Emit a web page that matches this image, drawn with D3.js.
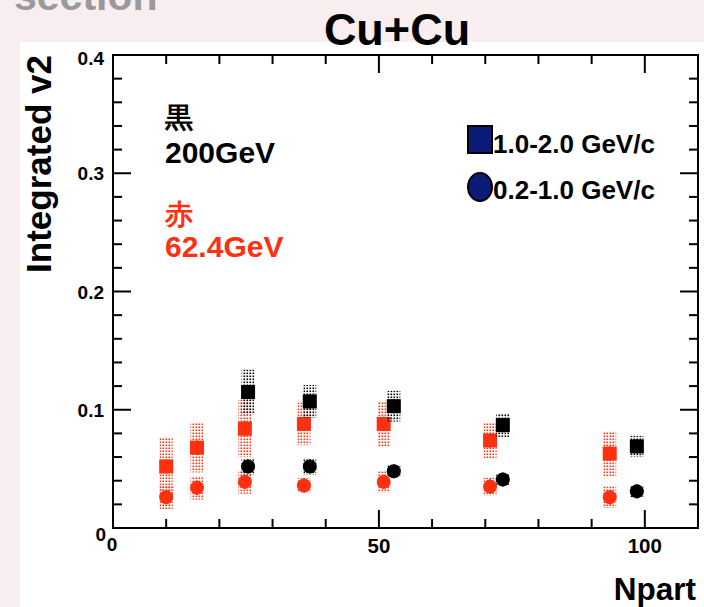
<!DOCTYPE html>
<html>
<head>
<meta charset="utf-8">
<script src="https://cdn.jsdelivr.net/npm/d3@7"></script>
<style>
  html, body { margin: 0; padding: 0; background: #f8eef0; }
  svg { display: block; }
  text { font-family: "Liberation Sans", Arial, sans-serif; font-weight: bold; }
</style>
</head>
<body>
<svg id="chart" width="704" height="607"></svg>
<script>
// Cu+Cu integrated v2 vs Npart
const npart62 = [10, 15.8, 24.8, 35.9, 50.9, 70.9, 93.4];
const v2High62 = [0.052, 0.068, 0.084, 0.088, 0.088, 0.074, 0.063];
const sysHigh62 = [0.025, 0.021, 0.024, 0.018, 0.019, 0.015, 0.019];
const v2Low62 = [0.026, 0.034, 0.039, 0.036, 0.039, 0.035, 0.026];
const sysLow62 = [0.0105, 0.010, 0.010, 0.006, 0.009, 0.0075, 0.009];

const npart200 = [25.4, 37.0, 52.8, 73.3, 98.5];
const v2High200 = [0.115, 0.107, 0.103, 0.087, 0.069];
const sysHigh200 = [0.019, 0.014, 0.013, 0.010, 0.009];
const v2Low200 = [0.052, 0.052, 0.048, 0.041, 0.031];
const sysLow200 = [0.007, 0.007, 0.005, 0.005, 0.005];

const statErr = 0.006;

const xTicksMajor = [0, 50, 100];
const yTicksMajor = [0, 0.1, 0.2, 0.3, 0.4];
const yTickLabels = ["0", "0.1", "0.2", "0.3", "0.4"];
const legendLabels = ["1.0-2.0 GeV/c", "0.2-1.0 GeV/c"];

const RED = "#ff3010";
const BLACK = "#000";

const svg = d3.select("#chart");

// page backdrop
svg.append("rect").attr("x", 20).attr("y", 42).attr("width", 684).attr("height", 565).attr("fill", "#fff");
svg.append("text").attr("x", 14).attr("y", 10).attr("font-size", 41).attr("fill", "#9a9a9a").text("section");

const x = d3.scaleLinear().domain([0, 110]).range([113, 698]);
const y = d3.scaleLinear().domain([0, 0.4]).range([528, 55]);

// dotted fill patterns for systematic bands
const defs = svg.append("defs");
[["dotRed", RED], ["dotBlack", BLACK]].forEach(([id, c]) => {
  const p = defs.append("pattern").attr("id", id).attr("patternUnits", "userSpaceOnUse")
    .attr("width", 3).attr("height", 3);
  p.append("rect").attr("x", 0.5).attr("y", 0.5).attr("width", 1.6).attr("height", 1.6).attr("fill", c);
});

// title
svg.append("text").attr("x", 397).attr("y", 45).attr("text-anchor", "middle")
  .attr("font-size", 45).text("Cu+Cu");

// frame
const [x0, x1] = x.range();
const [yb, yt] = y.range();
svg.append("rect").attr("x", x0).attr("y", yt).attr("width", x1 - x0).attr("height", yb - yt)
  .attr("fill", "none").attr("stroke", "#000").attr("stroke-width", 2);

// ticks on all four sides
const ticks = svg.append("g").attr("stroke", "#000").attr("stroke-width", 2);
d3.range(0, 0.4001, 0.02).forEach(v => {
  const major = Math.abs(v * 10 - Math.round(v * 10)) < 1e-6;
  const len = major ? 18 : 9;
  ticks.append("line").attr("x1", x0).attr("x2", x0 + len).attr("y1", y(v)).attr("y2", y(v));
  ticks.append("line").attr("x1", x1).attr("x2", x1 - len).attr("y1", y(v)).attr("y2", y(v));
});
d3.range(0, 110.01, 10).forEach(v => {
  const major = v % 50 === 0;
  const len = major ? 18 : 9;
  ticks.append("line").attr("x1", x(v)).attr("x2", x(v)).attr("y1", yb).attr("y2", yb - len);
  ticks.append("line").attr("x1", x(v)).attr("x2", x(v)).attr("y1", yt).attr("y2", yt + len);
});

// tick labels
yTicksMajor.forEach((v, i) => {
  const base = v === 0 ? 541 : (v === 0.4 ? y(v) + 10 : y(v) + 7);
  svg.append("text").attr("x", v === 0 ? 106 : 104).attr("y", base).attr("text-anchor", "end")
    .attr("font-size", 19).text(yTickLabels[i]);
});
xTicksMajor.forEach(v => {
  svg.append("text").attr("x", x(v) - (v === 0 ? 1 : 0)).attr("y", v === 0 ? 551 : 553)
    .attr("text-anchor", "middle").attr("font-size", v === 0 ? 19 : 20.5).text(String(v));
});

// axis titles
svg.append("text").attr("transform", "translate(51,164) rotate(-90)").attr("text-anchor", "middle")
  .attr("font-size", 35).text("Integrated v2");
svg.append("text").attr("x", 696).attr("y", 600).attr("text-anchor", "end")
  .attr("font-size", 31.5).text("Npart");

// annotations
const cjk = '"Noto Sans CJK JP", sans-serif';
svg.append("text").attr("x", 165).attr("y", 127).attr("font-size", 28).attr("font-family", cjk).text("黒");
svg.append("text").attr("x", 165).attr("y", 163).attr("font-size", 30).text("200GeV");
svg.append("text").attr("x", 165).attr("y", 224).attr("font-size", 28).attr("font-family", cjk).attr("fill", RED).text("赤");
svg.append("text").attr("x", 165).attr("y", 257).attr("font-size", 30).attr("fill", RED).text("62.4GeV");

// legend
const NAVY = "#0c1a78";
svg.append("rect").attr("x", 468).attr("y", 126).attr("width", 24).attr("height", 27)
  .attr("fill", NAVY).attr("stroke", "#000").attr("stroke-width", 2);
svg.append("ellipse").attr("cx", 480).attr("cy", 187).attr("rx", 12).attr("ry", 14)
  .attr("fill", NAVY).attr("stroke", "#000").attr("stroke-width", 2);
svg.append("text").attr("x", 493).attr("y", 153).attr("font-size", 26).text(legendLabels[0]);
svg.append("text").attr("x", 493).attr("y", 199).attr("font-size", 26).text(legendLabels[1]);

// data series
const series = [
  { xs: npart62, ys: v2Low62, sys: sysLow62, color: RED, pat: "dotRed", shape: "circle" },
  { xs: npart62, ys: v2High62, sys: sysHigh62, color: RED, pat: "dotRed", shape: "square" },
  { xs: npart200, ys: v2Low200, sys: sysLow200, color: BLACK, pat: "dotBlack", shape: "circle" },
  { xs: npart200, ys: v2High200, sys: sysHigh200, color: BLACK, pat: "dotBlack", shape: "square" }
];

const bandW = 13, mk = 14;
series.forEach(s => {
  const g = svg.append("g");
  const pts = s.xs.map((xv, i) => ({ x: xv, y: s.ys[i], e: s.sys[i] }));
  // systematic bands
  g.selectAll("rect.band").data(pts).join("rect").attr("class", "band")
    .attr("x", d => x(d.x) - bandW / 2).attr("width", bandW)
    .attr("y", d => y(d.y + d.e)).attr("height", d => y(d.y - d.e) - y(d.y + d.e))
    .attr("fill", `url(#${s.pat})`);
  // statistical bars
  g.selectAll("line.stat").data(pts).join("line").attr("class", "stat")
    .attr("x1", d => x(d.x)).attr("x2", d => x(d.x))
    .attr("y1", d => y(d.y + statErr)).attr("y2", d => y(d.y - statErr))
    .attr("stroke", "#000").attr("stroke-width", 1.5);
  // markers
  if (s.shape === "square") {
    g.selectAll("rect.mk").data(pts).join("rect").attr("class", "mk")
      .attr("x", d => x(d.x) - mk / 2).attr("y", d => y(d.y) - mk / 2)
      .attr("width", mk).attr("height", mk).attr("fill", s.color);
  } else {
    g.selectAll("circle.mk").data(pts).join("circle").attr("class", "mk")
      .attr("cx", d => x(d.x)).attr("cy", d => y(d.y)).attr("r", 7).attr("fill", s.color);
  }
});
</script>
</body>
</html>
